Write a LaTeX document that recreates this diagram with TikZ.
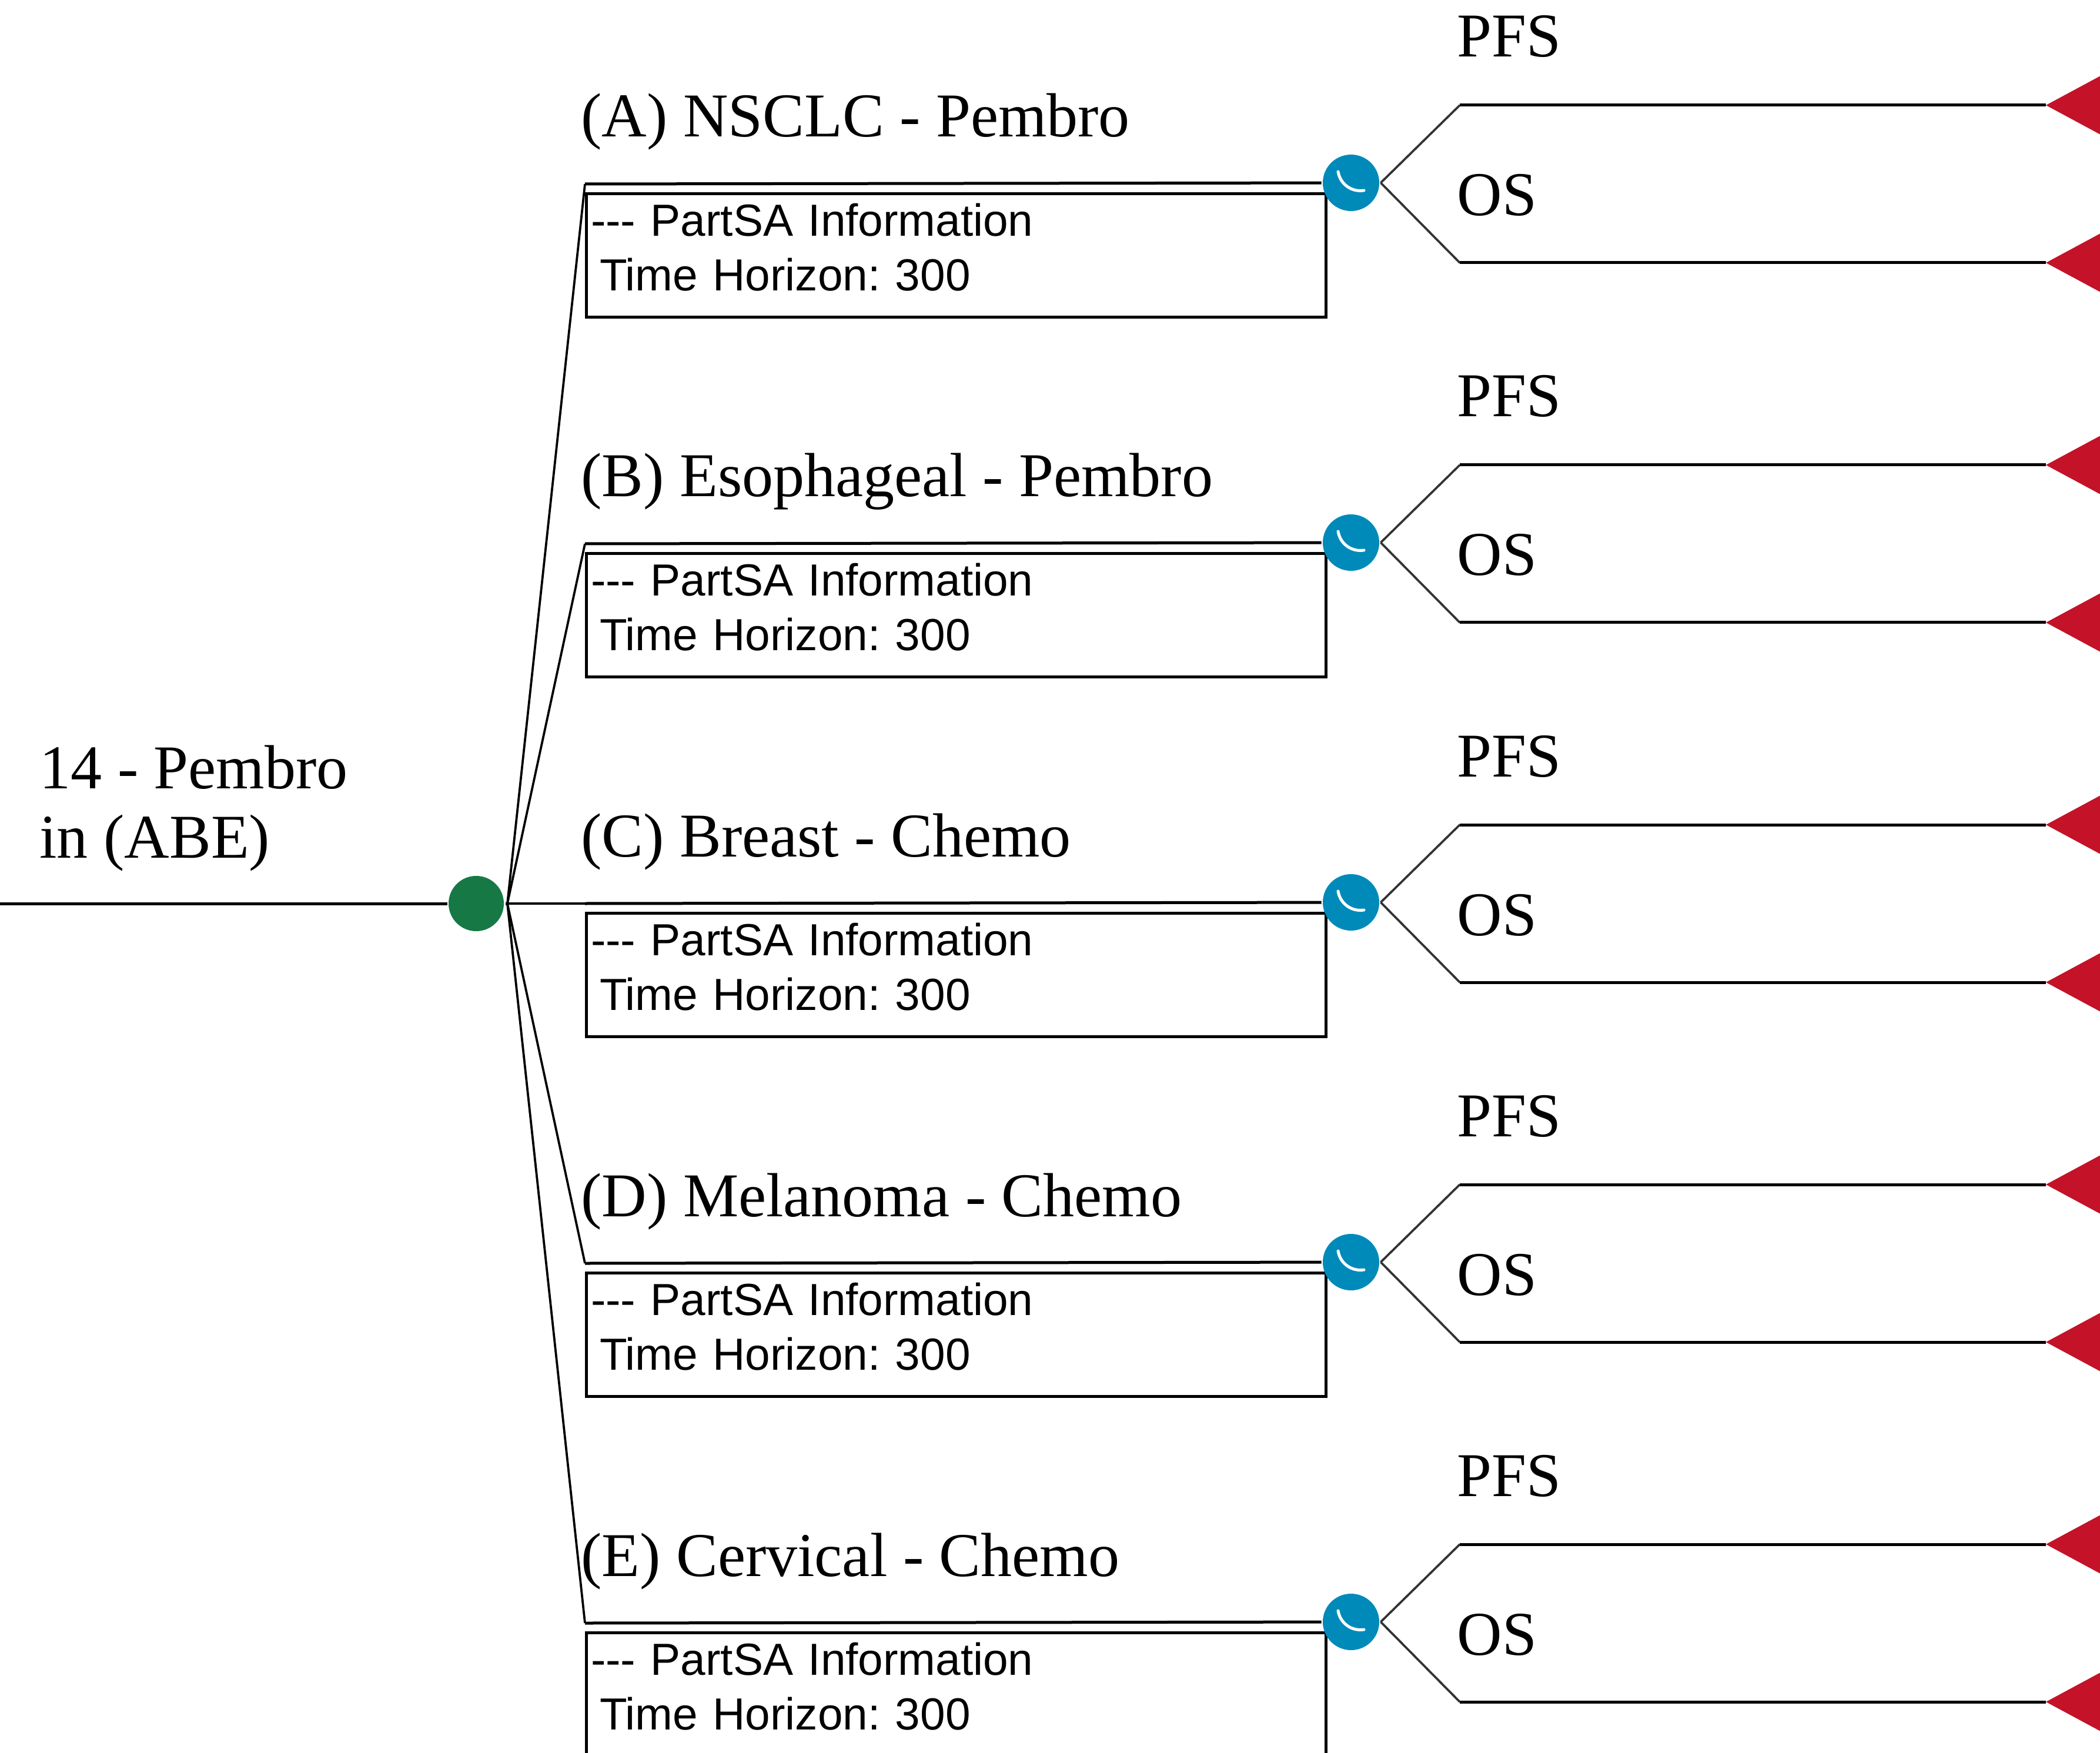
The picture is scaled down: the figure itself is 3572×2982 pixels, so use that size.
\documentclass[tikz,border=0pt]{standalone}
\usepackage{fontspec}
\setmainfont{Liberation Serif}
\newfontfamily\boxfont{Liberation Sans}
\usepackage{tikz}
\usepackage{xcolor}
\definecolor{decgreen}{RGB}{22, 121, 69}
\definecolor{chanceblue}{RGB}{0, 138, 185}
\definecolor{termred}{RGB}{196, 18, 40}

\begin{document}
\frenchspacing
\begin{tikzpicture}[x=0.2pt, y=-0.2pt, line width=1pt,
    decision/.style={circle, fill=decgreen, minimum size=18.8pt, inner sep=0pt},
    chance/.style={circle, fill=chanceblue, minimum size=19.2pt, inner sep=0pt},
    armlabel/.style={anchor=base west, inner sep=0pt, font=\fontsize{21.2}{23.4}\selectfont},
    infobox/.style={draw, anchor=north west, inner xsep=1.5pt, inner ysep=0pt,
        text width=248.6pt, align=left, text height=14.4pt, text depth=27.6pt,
        font=\boxfont\fontsize{15.3}{18.6}\selectfont},
    fanline/.style={line width=0.75pt},
    forkline/.style={line width=0.75pt, black!80}]
    \useasboundingbox (0,0) rectangle (3572,2982);
    \clip (0,0) rectangle (3572,2982);

    % root of the tree
    \coordinate (root) at (0,1537);
    \node[decision] (decision) at (810,1537) {};
    \coordinate (fan) at (863,1537);
    \node[armlabel, align=left] (rootlab) at (65,1459) {14 - Pembro\\in (ABE)};
    \draw (root) -- (decision);
    \draw (decision.east) -- (fan);

    % one arm per indication
    \foreach \i/\yb/\arm in {a/313/{(A) NSCLC - Pembro}, b/925/{(B) Esophageal - Pembro},
        c/1537/{(C) Breast - Chemo}, d/2149/{(D) Melanoma - Chemo}, e/2761/{(E) Cervical - Chemo}} {
        \coordinate (start\i) at (995,\yb);
        \node[armlabel] (arm\i) at (986,\yb-80) {\arm};
        \node[infobox] (info\i) at (995,\yb+14)
            {-\kern0pt-\kern0pt- PartSA Information\\\hspace*{3pt}Time Horizon: 300};
        \node[chance] (chance\i) at (2298,\yb-2) {};
        \draw[white, line width=1pt, line cap=round]
            ([shift={(-22,-19)}]chance\i.center) to[bend right=45] ([shift={(22,13)}]chance\i.center);
        \draw[fanline] (fan) -- (start\i);
        \draw (start\i) -- (chance\i);

        % PFS / OS split
        \coordinate (up\i) at (2483,\yb-134);
        \coordinate (dn\i) at (2483,\yb+134);
        \coordinate (pfs\i) at (3480,\yb-134);
        \coordinate (os\i) at (3480,\yb+134);
        \draw[forkline] (chance\i.east) -- (up\i);
        \draw[forkline] (chance\i.east) -- (dn\i);
        \draw (up\i) -- (pfs\i);
        \draw (dn\i) -- (os\i);
        \node[armlabel] (pfslab\i) at (2476,\yb-216) {PFS};
        \node[armlabel] (oslab\i) at (2476,\yb+54) {OS};
        \fill[termred] (pfs\i) -- ++(130,-70) -- ++(0,140) -- cycle;
        \fill[termred] (os\i) -- ++(130,-70) -- ++(0,140) -- cycle;
    }
\end{tikzpicture}
\end{document}
